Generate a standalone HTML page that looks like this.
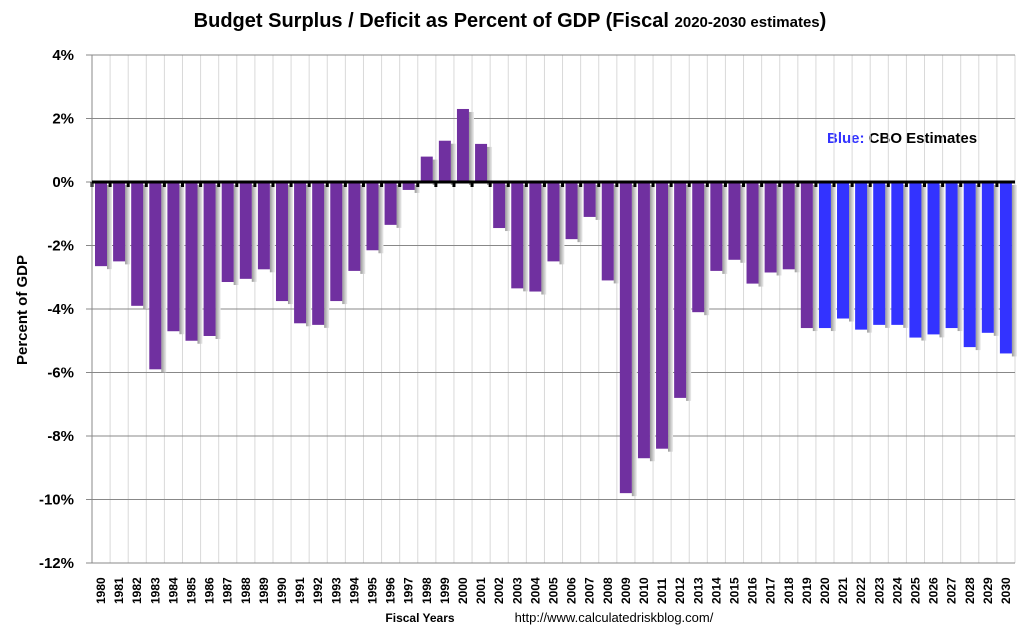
<!DOCTYPE html>
<html><head><meta charset="utf-8"><style>
body{margin:0;background:#fff;font-family:"Liberation Sans",sans-serif}
</style></head><body>
<svg id="c" width="1021" height="632" xmlns="http://www.w3.org/2000/svg">
<defs><linearGradient id="sh" x1="0" x2="1"><stop offset="0" stop-color="#999"/><stop offset="1" stop-color="#eee"/></linearGradient></defs>
<text x="510" y="27" text-anchor="middle" font-size="20" font-weight="bold">Budget Surplus / Deficit as Percent of GDP (Fiscal <tspan font-size="15">2020-2030 estimates</tspan>)</text>
<text transform="translate(27,310) rotate(-90)" text-anchor="middle" font-size="15" font-weight="bold">Percent of GDP</text>
<text x="420" y="622" text-anchor="middle" font-size="12" font-weight="bold">Fiscal Years</text>
<text x="614" y="622" text-anchor="middle" font-size="13">http://www.calculatedriskblog.com/</text>
<text x="827" y="143" font-size="15" font-weight="bold"><tspan fill="#3333ff">Blue:</tspan> CBO Estimates</text>
<g id="grid"></g><g id="bars"></g><g id="axes"></g>
</svg>
<script>
const years=[];for(let y=1980;y<=2030;y++)years.push(y);
const values=[-2.65,-2.5,-3.9,-5.9,-4.7,-5.0,-4.85,-3.15,-3.05,-2.75,-3.75,-4.45,-4.5,-3.75,-2.8,-2.15,-1.35,-0.25,0.8,1.3,2.3,1.2,-1.45,-3.35,-3.45,-2.5,-1.8,-1.1,-3.1,-9.8,-8.7,-8.4,-6.8,-4.1,-2.8,-2.45,-3.2,-2.85,-2.75,-4.6,-4.6,-4.3,-4.65,-4.5,-4.5,-4.9,-4.8,-4.6,-5.2,-4.75,-5.4];
const yTicks=[4,2,0,-2,-4,-6,-8,-10,-12];
const NS="http://www.w3.org/2000/svg";
const X0=92,X1=1015,Y0=55,Y1=563,slot=(X1-X0)/years.length;
const yS=v=>Y0+(4-v)*(Y1-Y0)/16;
const xS=i=>X0+i*slot;
function mk(t,a,p){const e=document.createElementNS(NS,t);for(const k in a)e.setAttribute(k,a[k]);p.appendChild(e);return e;}
const grid=document.getElementById('grid'),bars=document.getElementById('bars'),axes=document.getElementById('axes');
for(let i=1;i<=years.length;i++){const l=mk('line',{x1:xS(i),x2:xS(i),y1:Y0,y2:Y1,stroke:'#d9d9d9'},grid);

}
yTicks.forEach(v=>{const y=yS(v);
const l=mk('line',{x1:X0-6,x2:X1,y1:y,y2:y,stroke:'#888'},grid);


const t=mk('text',{x:74,y:y+5,'text-anchor':'end','font-size':15,'font-weight':'bold'},axes);t.textContent=v+'%';

});
years.forEach((yr,i)=>{const v=values[i];const x=xS(i)+3,w=12;const y0=yS(0),y=yS(v);
const top=Math.min(y0,y),h=Math.abs(y-y0);
const s=mk('rect',{x:x+w,y:top+3,width:5,height:h,fill:'url(#sh)'},bars);


const r=mk('rect',{x:x,y:top,width:w,height:h,fill:yr>=2020?'#3333ff':'#7030a0'},bars);


const cx=xS(i)+slot/2;
const t=mk('text',{transform:`translate(${cx+4},604) rotate(-90)`,'font-size':12,'font-weight':'bold'},axes);t.textContent=yr;


const tk=mk('line',{x1:xS(i),x2:xS(i),y1:yS(0),y2:yS(0)+5,stroke:'#000','stroke-width':3},axes);

});
const ya=mk('line',{x1:X0,x2:X0,y1:Y0,y2:Y1,stroke:'#888'},axes);


const z=mk('line',{x1:X0,x2:X1,y1:yS(0),y2:yS(0),stroke:'#000','stroke-width':3},axes);


</script>
</body></html>
